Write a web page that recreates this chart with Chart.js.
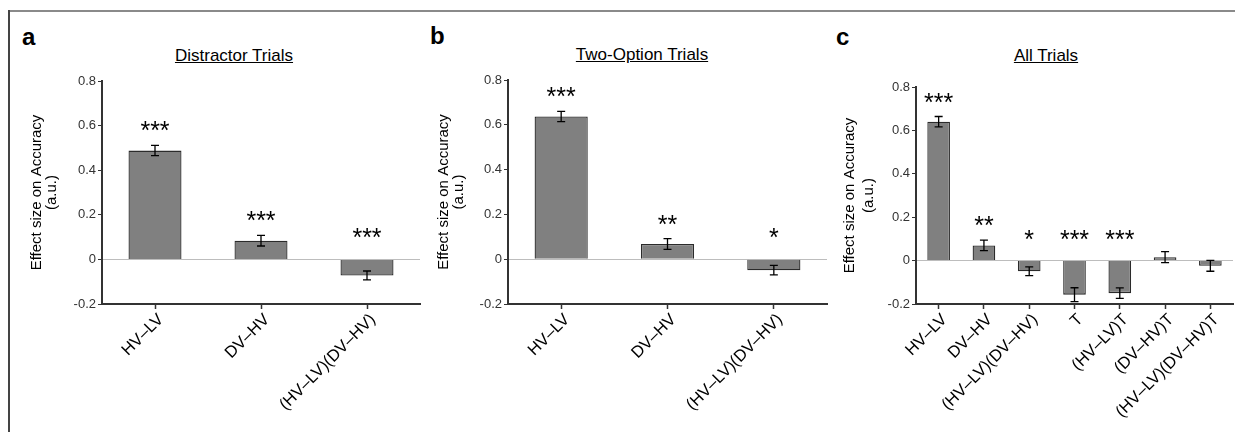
<!DOCTYPE html>
<html>
<head>
<meta charset="utf-8">
<script src="https://cdn.jsdelivr.net/npm/chart.js@4"></script>
<style>
  body { margin: 0; background: #fff; }
  #fig { position: relative; width: 1235px; height: 432px; overflow: hidden; font-family: 'Liberation Sans', Arial, sans-serif; }
  .frame-top { position: absolute; left: 8px; top: 10px; right: 0; height: 2px; background: #8a8a8a; }
  .frame-left { position: absolute; left: 8px; top: 10px; width: 2px; bottom: 0; background: #444; }
  canvas { position: absolute; top: 0; }
  .letter { position: absolute; font-weight: bold; font-size: 24px; line-height: 24px; color: #000; }
  .ptitle { position: absolute; font-size: 17px; line-height: 17px; text-decoration: underline; transform: translateX(-50%); white-space: nowrap; color: #000; }
</style>
</head>
<body>
<div id="fig">
  <div class="frame-top"></div>
  <div class="frame-left"></div>

  <div class="letter" style="left:22px; top:25px;">a</div>
  <div class="letter" style="left:430px; top:24px;">b</div>
  <div class="letter" style="left:836px; top:25px;">c</div>

  <div class="ptitle" style="left:234px; top:47px;">Distractor Trials</div>
  <div class="ptitle" style="left:642px; top:46px;">Two-Option Trials</div>
  <div class="ptitle" style="left:1046px; top:47px;">All Trials</div>

  <canvas id="chartA" width="412" height="432" style="left:12px;"></canvas>
  <canvas id="chartB" width="410" height="432" style="left:420px;"></canvas>
  <canvas id="chartC" width="409" height="432" style="left:826px;"></canvas>
</div>

<script>
/* DATA */

const labelsAB = ['HV–LV', 'DV–HV', '(HV–LV)(DV–HV)'];
const labelsC = ['HV–LV', 'DV–HV', '(HV–LV)(DV–HV)', 'T', '(HV–LV)T', '(DV–HV)T', '(HV–LV)(DV–HV)T'];

const distractorVals = [0.488, 0.084, -0.072];
const distractorErr = [0.023, 0.024, 0.020];
const distractorStars = ['***', '***', '***'];

const twoOptionVals = [0.637, 0.068, -0.049];
const twoOptionErr = [0.023, 0.024, 0.021];
const twoOptionStars = ['***', '**', '*'];

const allVals = [0.640, 0.070, -0.049, -0.157, -0.150, 0.016, -0.024];
const allErr = [0.024, 0.024, 0.020, 0.032, 0.024, 0.025, 0.025];
const allStars = ['***', '**', '*', '***', '***', '', ''];

const yTicks = [-0.2, 0, 0.2, 0.4, 0.6, 0.8];
const yTitle = ['Effect size on Accuracy', '(a.u.)'];

const fontFamily = "'Liberation Sans', Arial, sans-serif";
Chart.defaults.font.family = fontFamily;

// error bars + significance stars, drawn through the chart scales
const errorBars = {
  id: 'errorBars',
  afterDatasetsDraw(chart, args, opts) {
    const ctx = chart.ctx;
    const x = chart.scales.x;
    const y = chart.scales.y;
    const vals = chart.data.datasets[0].data;

    ctx.save();
    ctx.strokeStyle = '#000';
    ctx.lineWidth = 1.3;
    vals.forEach(function(v, i) {
      const e = opts.err[i];
      const px = x.getPixelForValue(i);
      const top = y.getPixelForValue(v + e);
      const bot = y.getPixelForValue(v - e);
      ctx.beginPath();
      ctx.moveTo(px, top); ctx.lineTo(px, bot);
      ctx.moveTo(px - 4, top); ctx.lineTo(px + 4, top);
      ctx.moveTo(px - 4, bot); ctx.lineTo(px + 4, bot);
      ctx.stroke();
    });

    ctx.font = '25px ' + fontFamily;
    ctx.fillStyle = '#000';
    ctx.textAlign = 'center';
    ctx.textBaseline = 'alphabetic';
    opts.stars.forEach(function(s, i) {
      if (!s) return;
      const v = vals[i], e = opts.err[i];
      const cy = Math.min(y.getPixelForValue(v + e) - 20, y.getPixelForValue(0) - 27);
      ctx.fillText(s, x.getPixelForValue(i), cy + 14);
    });
    ctx.restore();
  }
};

function makePanel(id, labels, vals, errs, stars, box) {
  return new Chart(document.getElementById(id), {
    type: 'bar',
    data: {
      labels: labels,
      datasets: [{
        data: vals,
        backgroundColor: '#808080',
        borderColor: '#2b2b2b',
        borderWidth: 1.3,
        barPercentage: 0.5,
        categoryPercentage: 1
      }]
    },
    plugins: [errorBars],
    options: {
      responsive: false,
      animation: false,
      layout: { padding: { top: box.top, right: box.right, bottom: 0, left: 0 } },
      plugins: {
        legend: { display: false },
        tooltip: { enabled: false },
        errorBars: { err: errs, stars: stars }
      },
      scales: {
        x: {
          grid: { display: true, drawOnChartArea: false, offset: false, tickLength: 5, tickColor: '#333', tickWidth: 1.5 },
          border: { color: '#333', width: 2 },
          ticks: { autoSkip: false, minRotation: 45, maxRotation: 45, color: '#000', font: { size: 16.5 }, padding: 1, labelOffset: 6 },
          afterFit(s) { s.height = 432 - box.bottom; }
        },
        y: {
          min: -0.2,
          max: 0.8,
          afterBuildTicks(s) { s.ticks = yTicks.map(function(v) { return { value: v }; }); },
          grid: {
            color: function(c) { return c.tick && c.tick.value === 0 ? '#bdbdbd' : 'rgba(0,0,0,0)'; },
            tickColor: '#333',
            tickLength: 4,
            lineWidth: 1
          },
          border: { color: '#333', width: 2 },
          ticks: { color: '#333', font: { size: 13 }, padding: 2, callback: function(v) { return String(+v.toFixed(1)); } },
          title: { display: true, text: yTitle, color: '#000', font: { size: 15, lineHeight: box.tlh }, padding: { top: box.tpad, bottom: 0 } },
          afterFit(s) { s.width = box.axisW; }
        }
      }
    }
  });
}

makePanel('chartA', labelsAB, distractorVals, distractorErr, distractorStars,
  { axisW: 90, top: 81, right: 4, bottom: 304, tpad: 17, tlh: 1 });
makePanel('chartB', labelsAB, twoOptionVals, twoOptionErr, twoOptionStars,
  { axisW: 88, top: 80, right: 3, bottom: 304, tpad: 16, tlh: 1 });
makePanel('chartC', labelsC, allVals, allErr, allStars,
  { axisW: 90, top: 87, right: 2, bottom: 304, tpad: 14, tlh: 1.3 });
</script>
</body>
</html>
